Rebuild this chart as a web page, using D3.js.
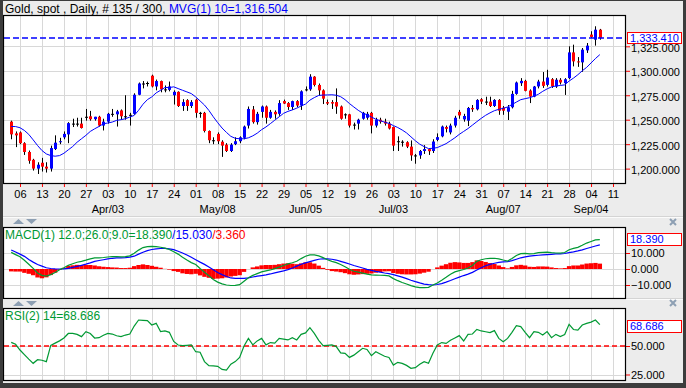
<!DOCTYPE html>
<html><head><meta charset="utf-8">
<script src="https://cdn.jsdelivr.net/npm/d3@7"></script>
<style>html,body{margin:0;padding:0;background:#ececec;overflow:hidden}svg{display:block}</style>
</head><body>
<script>
// ---------- DATA ----------
const weekLabels = ["06","13","20","27","03","10","17","24","01","08","15","22","29","05","12","19","26","03","10","17","24","31","07","14","21","28","04","11"];
const monthLabels = ["Apr/03","May/08","Jun/05","Jul/03","Aug/07","Sep/04"];
const monthWeek = [4,9,13,17,22,26];
const priceTicks = [1200,1225,1250,1275,1300,1325];
const macdTicks = [-10,0,10];
const rsiTicks = [25,50];

const open = [1248,1236,1237,1226,1217,1209,1200,1206,1202,1200,
1220,1227,1232,1235,1246,1246,1246,1253,1253.5,1250.5,
1253,1244,1248,1256,1255.5,1259.5,1253.5,1255,1256,1275.5,
1287,1287.5,1295,1284,1289.5,1281,1280.5,1275,1278.5,1264,
1270,1264,1270.5,1257,1257,1238.5,1229,1235.5,1227.5,1224.5,
1218,1225,1228,1231.5,1244,1260.5,1247.5,1258,1263.5,1252,
1258,1256,1269,1267,1263,1269,1264.5,1281,1281,1294,
1285.5,1280,1268,1268,1268,1263.5,1255.5,1255.5,1245,1246,
1251,1252,1257,1244,1250,1248,1246,1242.5,1228,1227.5,
1227,1222.5,1213.5,1213.5,1218,1220,1218,1229.4,1233,1242.5,
1237,1244,1258,1250.3,1249,1262,1260.6,1270.9,1268.5,1268.5,
1264,1270.2,1262.3,1258.2,1262.7,1276.4,1287.3,1289.7,1279.8,1273.6,
1284,1289,1285.6,1291.4,1283.9,1290.8,1287.3,1292.5,1318.8,1309.6,
1308.6,1320.9,1337,1331.8,1342];
const high = [1249,1238,1238,1227,1218.5,1210,1206.5,1211,1206.5,1223.5,
1234,1231.5,1238,1247.5,1251,1252,1252,1261,1259,1253,
1254,1251,1257,1261,1260,1260.5,1275,1257,1277,1288,
1289.5,1289,1296,1291,1290,1285,1289,1280,1279,1271,
1271,1270,1271.5,1258,1258,1239,1232,1237,1229,1226,
1226,1232,1233,1244,1263.5,1264,1258,1264.5,1264.5,1260,
1259.5,1270,1270.5,1268,1269.5,1270,1280,1284,1296.5,1294.5,
1287,1281,1270.5,1270,1282,1264.5,1256.5,1256,1247,1251,
1258,1258,1258,1252,1252,1251,1248,1243,1233,1229,
1228,1228.8,1215,1219,1224,1221,1230,1236,1244,1244,
1246,1254,1260,1256,1263,1265,1271,1272,1273.5,1273.5,
1271,1271,1264,1265,1279.5,1289,1292.5,1290.8,1281,1284.5,
1290.8,1298.7,1301,1292.5,1292.5,1292.5,1292.5,1325,1326.7,1314,
1323.3,1328.4,1340.4,1345.5,1342.8];
const low = [1230,1222,1225,1214,1205,1198,1194.5,1197,1196,1197,
1219,1225,1230,1226,1242.5,1243,1241,1249,1249,1249,
1243,1239,1246,1253,1243,1250,1250,1244,1255,1275,
1282,1284,1283,1280,1278,1278,1279,1265.5,1263,1259,
1259,1262,1252,1252,1237,1226,1225,1225,1212,1217,
1217,1224,1226,1230,1241,1246,1245,1252,1246,1251,
1251,1254,1266,1260,1260,1263,1260,1279,1279.5,1284,
1275,1266,1265,1261,1256,1250,1251,1242,1240,1240,
1250,1250,1236,1242,1246,1244,1240,1218,1218,1222.5,
1221,1208,1205,1210,1215,1214,1216,1228,1232,1237,
1235,1242,1251,1248,1243.5,1258,1259.5,1266,1265,1263,
1263,1255,1255,1249.7,1261.5,1275.5,1284.5,1279,1267,1273,
1282,1282.5,1283.9,1282.5,1282.5,1286,1275.3,1291.4,1304.5,1304,
1299,1318.2,1333.6,1325.7,1331.8];
const close = [1235,1234,1226,1217,1208,1200,1204,1202,1200,1221,
1226.5,1228,1235.5,1246.5,1246,1246,1241.5,1253,1250.5,1253,
1244,1248,1256,1256,1258.5,1253.5,1253.5,1255,1275.5,1287,
1287,1287.5,1284,1289.5,1281,1281,1284,1278.5,1264,1268,
1264,1268,1257,1257,1238.5,1229,1229,1228,1223.5,1218,
1224.5,1228,1232,1243,1261,1247.5,1256,1263.5,1252,1258,
1255.5,1267,1266.5,1263,1269,1264.5,1279,1281,1294,1285.5,
1280,1271.5,1266.5,1266.5,1263.5,1251,1255.5,1244,1245,1250,
1257,1256,1244,1250,1248,1246,1241,1223.5,1228,1227.5,
1222.5,1213.5,1213.5,1218,1220,1217.8,1227.7,1232.2,1243,1240.7,
1244,1252,1254.4,1253.8,1262,1260.6,1270.2,1268.5,1268.5,1264,
1270.2,1259.2,1259.2,1262.7,1276.4,1288,1289.7,1279.5,1273.6,1283.9,
1289,1284.6,1293.1,1283.9,1290.8,1288,1291.4,1318.8,1309.6,1308.6,
1321.6,1325.7,1334.6,1342,1333.41];
const ma10 = [1243.1,1243,1241.8,1239,1235,1229.4,1223.6,1218.5,1215,1213.3,
1212.7,1213.3,1215.7,1219.2,1222.6,1227,1230.5,1234,1238,1240.7,
1243.1,1245.9,1246.6,1247.6,1249.3,1250,1251,1252.7,1254.4,1259.6,
1265.8,1270.5,1273.3,1277.4,1280.1,1282.9,1282.9,1283.6,1281.8,1280.1,
1278.4,1276.7,1273.3,1269.2,1265,1259.5,1253,1247,1241.5,1237,
1233,1231,1230.5,1230.5,1231.5,1233.5,1236.2,1239.8,1242.6,1246,
1249.5,1253,1256.5,1258.5,1260,1261.8,1264,1266,1270,1272.6,
1274.8,1275.2,1275.3,1275.5,1275,1273.5,1270.5,1266.5,1263,1259.6,
1256.8,1255.1,1252.7,1250.5,1249,1247.5,1246.2,1244,1242,1239.5,
1236.5,1232.5,1228.5,1225,1222.5,1220.5,1220.8,1221.5,1223.5,1225.5,
1228.5,1231.5,1235,1238,1241,1244.5,1248,1251.4,1254.5,1257,
1259.2,1260.6,1261.6,1263,1265.5,1268,1270.5,1271.5,1272.5,1274,
1276,1279,1281.5,1283.5,1284.5,1285,1285.6,1289.5,1292.5,1296,
1300,1303.5,1308,1312.5,1316.504];
const macdLine = [10.4,9.0,7.7,5.5,3.0,0.4,-2.5,-4.0,-4.4,-3.5,
-2.2,-0.5,0.8,2.3,3.3,4.2,4.8,5.5,6.3,7.0,
7.0,7.2,7.5,7.7,7.8,7.6,7.7,8.2,9.8,11.8,
13.4,14.0,14.2,14.0,13.6,13.0,12.2,10.8,9.3,7.3,
5.6,4.0,2.8,0.3,-2.0,-4.2,-6.6,-8.2,-9.3,-10.0,
-10.3,-10.2,-9.8,-7.6,-5.5,-4.0,-2.9,-1.8,-1.2,-0.6,
0.2,1.2,2.2,3.2,3.9,4.8,6.5,8.0,8.8,8.8,
8.2,7.1,5.8,4.8,4.0,2.8,1.4,-0.2,-1.4,-2.0,
-2.6,-3.2,-3.7,-3.8,-3.9,-4.0,-4.3,-6.0,-7.3,-8.4,
-9.4,-10.4,-11.2,-11.6,-11.7,-11.5,-10.0,-8.7,-7.0,-5.2,
-3.3,-1.8,-1.0,-0.3,0.6,2.2,4.8,5.8,6.4,6.6,
6.7,6.3,5.6,5.0,6.5,8.4,9.6,9.8,9.4,9.6,
10.2,10.4,10.5,10.2,10.0,9.9,10.3,12.0,12.9,13.5,
14.8,16.2,17.2,18.2,18.39];
const signalLine = [11.9,10.6,9.3,7.9,6.0,4.3,2.8,1.8,0.8,0.3,
0.1,0.0,0.1,0.4,1.0,1.6,2.3,3.0,3.8,4.8,
5.3,5.8,6.3,6.7,6.9,7.0,7.1,7.4,8.0,9.3,
10.5,11.5,12.2,12.6,12.8,12.9,12.6,12.1,11.1,10.0,
8.7,7.3,5.8,4.3,2.9,1.3,-0.4,-2.2,-3.5,-4.7,
-5.6,-5.9,-5.9,-5.8,-5.5,-5.0,-4.5,-4.1,-3.7,-3.1,
-2.4,-1.8,-1.2,-0.4,0.6,1.8,3.0,3.8,4.6,5.4,
6.1,6.4,6.3,6.1,5.6,4.8,4.0,3.1,2.2,1.4,
0.6,-0.2,-0.9,-1.5,-2.0,-2.5,-2.9,-3.5,-4.3,-5.1,
-6.0,-7.0,-7.9,-8.7,-9.4,-9.8,-10.0,-9.7,-9.1,-8.2,
-7.2,-6.1,-5.1,-4.1,-3.2,-2.1,-0.6,0.8,2.0,2.9,
3.6,4.1,4.4,4.6,5.2,6.1,7.0,7.6,8.0,8.3,
8.6,8.8,9.0,9.2,9.4,9.5,9.7,10.2,10.7,11.3,
12.0,12.8,13.6,14.4,15.03];
const histogram = [-1.5,-1.6,-1.6,-2.4,-3.0,-3.9,-5.3,-5.8,-5.2,-3.8,
-2.3,-0.5,0.7,1.9,2.3,2.6,2.5,2.5,2.5,2.2,
1.7,1.4,1.2,1.0,0.9,0.6,0.6,0.8,1.8,2.5,
2.9,2.5,2.0,1.4,0.8,0.1,-0.4,-1.3,-1.8,-2.7,
-3.1,-3.3,-3.0,-4.0,-4.9,-5.5,-6.2,-6.0,-5.8,-5.3,
-4.7,-4.3,-3.9,-1.8,0.0,1.0,1.6,2.3,2.5,2.5,
2.6,3.0,3.4,3.6,3.3,3.0,3.5,4.2,4.2,3.4,
2.1,0.7,-0.5,-1.3,-1.6,-2.0,-2.6,-3.3,-3.6,-3.4,
-3.2,-3.0,-2.8,-2.3,-1.9,-1.5,-1.4,-2.5,-3.0,-3.3,
-3.4,-3.4,-3.3,-2.9,-2.3,-1.7,0.0,1.0,2.1,3.0,
3.9,4.3,4.1,3.8,3.8,4.3,5.4,5.0,4.4,3.7,
3.1,2.2,1.2,0.4,1.3,2.3,2.6,2.2,1.4,1.3,
1.6,1.6,1.5,1.0,0.6,0.4,0.6,1.8,2.2,2.2,
2.8,3.4,3.6,3.8,3.36];
const rsi = [53.2,51.5,46.5,42.5,38.5,34.8,38,37.5,36.3,50.5,
52.5,54.5,57,61,61,60.2,58.2,62.6,61,57,
57.3,59.5,61.1,60.5,59,58.2,59.6,60.5,67.5,72.8,
72.5,72.2,68.4,69.9,62.6,63.2,62,54,50.9,50.3,
50.6,50.9,45,44.5,36.3,32.7,32.5,32.2,29.5,28.9,
34,36.3,40,50,56.7,51,54.5,56.7,51,53,
52.5,56.7,56,55.3,57.3,55.3,60.2,61.5,66.1,61.1,
55,50.3,50.6,50.9,49.5,44,43.6,40,42,45,
48,47,41.5,45,43,41,40,33.3,35.7,34.8,
33,30.4,31,34,36.3,34.8,43.6,51,53,52.3,
55,57,59.1,54.4,60.2,60.5,64.6,63.2,62.5,61.7,
63.5,56.7,53.8,56.7,62,67.8,67,62,57.3,62.6,
62,59.6,62.6,57.3,60.2,58.2,60,69,64.5,64,
68.4,69.9,71,72.8,68.686];

// ---------- DRAW ----------
const FONT = '"Liberation Sans", Arial, sans-serif';
const W = 686, H = 388, L = 4, R = 625;
const GREEN = '#009933', BLUE = '#0000ff', RED = '#ff0000';
const fmt3 = d3.format(',.3f');
const idx = d3.range(close.length);
const weekIdx = weekLabels.map((d, k) => 2 + 5 * k);

const x = d3.scaleLinear().domain([-1.64, 139.73]).range([L, R]);
const yP = d3.scaleLinear().domain([1185.3, 1356]).range([183, 16]);
const yM = d3.scaleLinear().domain([-18.125, 25.625]).range([298, 228]);
const yR = d3.scaleLinear().domain([20.18, 82.46]).range([380, 309]);

const svg = d3.select('body').append('svg').attr('width', W).attr('height', H)
  .attr('font-family', FONT);
svg.append('rect').attr('width', W).attr('height', H).attr('fill', '#ececec');

// separators
[217.5, 299.5].forEach(yy => {
  svg.append('line').attr('x1', 3).attr('x2', 683).attr('y1', yy).attr('y2', yy).attr('stroke', '#fbfbfb');
  svg.append('line').attr('x1', 3).attr('x2', 683).attr('y1', yy - 1).attr('y2', yy - 1).attr('stroke', '#d4d4d4');
});

// title
const title = svg.append('text').attr('x', 5).attr('y', 12.5).attr('font-size', 12).attr('fill', '#000');
title.append('tspan').text('Gold, spot , Daily, # 135 / 300, ');
title.append('tspan').attr('fill', BLUE).text('MVG(1) 10=' + fmt3(ma10[ma10.length - 1]));

function makePanel(top, bottom, y, ticks, id, labelShift) {
  const g = svg.append('g');
  g.append('rect').attr('x', L).attr('y', top).attr('width', R - L).attr('height', bottom - top).attr('fill', '#fff');
  svg.append('clipPath').attr('id', id).append('rect').attr('x', L).attr('y', top).attr('width', R - L).attr('height', bottom - top);
  const gv = g.append('g').attr('stroke', '#d8d8d8').attr('shape-rendering', 'crispEdges');
  gv.selectAll('line').data(weekIdx).join('line')
    .attr('x1', d => Math.round(x(d)) + 0.5).attr('x2', d => Math.round(x(d)) + 0.5)
    .attr('y1', top).attr('y2', bottom);
  const gh = g.append('g').attr('stroke', '#d8d8d8').attr('shape-rendering', 'crispEdges');
  gh.selectAll('line').data(ticks).join('line')
    .attr('x1', L).attr('x2', R)
    .attr('y1', d => Math.round(y(d)) + 0.5).attr('y2', d => Math.round(y(d)) + 0.5);
  const content = g.append('g').attr('clip-path', `url(#${id})`);
  const ax = svg.append('g').attr('transform', `translate(${R + 1},0)`)
    .call(d3.axisRight(y).tickValues(ticks).tickSize(4).tickPadding(1).tickFormat(fmt3));
  ax.select('.domain').remove();
  ax.selectAll('.tick line').attr('stroke', RED);
  ax.selectAll('.tick text').attr('fill', '#000').attr('font-size', 11).attr('font-family', FONT)
    .attr('y', labelShift || 0);
  const border = () => svg.append('rect').attr('x', L - 0.5).attr('y', top - 0.5).attr('width', R - L + 1).attr('height', bottom - top + 1)
    .attr('fill', 'none').attr('stroke', '#000').attr('stroke-width', 1.2);
  return { content, border };
}

// ---- main price panel ----
const main = makePanel(16, 183, yP, priceTicks, 'cpMain', 1.5);
const cg = main.content;
cg.append('g').selectAll('line').data(idx).join('line')
  .attr('x1', i => Math.round(x(i)) + 0.5).attr('x2', i => Math.round(x(i)) + 0.5)
  .attr('y1', i => yP(high[i])).attr('y2', i => yP(low[i]))
  .attr('stroke', '#000').attr('stroke-width', 1);
cg.append('g').selectAll('rect').data(idx).join('rect')
  .attr('x', i => Math.round(x(i)) - 1).attr('width', 3)
  .attr('y', i => Math.min(yP(open[i]), yP(close[i])))
  .attr('height', i => Math.max(1, Math.abs(yP(open[i]) - yP(close[i]))))
  .attr('fill', i => close[i] > open[i] ? BLUE : close[i] < open[i] ? RED : '#000');
cg.append('path').datum(idx)
  .attr('d', d3.line().x(i => x(i)).y(i => yP(ma10[i])))
  .attr('fill', 'none').attr('stroke', BLUE).attr('stroke-width', 1);
const lastClose = close[close.length - 1];
cg.append('line').attr('x1', L).attr('x2', R).attr('y1', yP(lastClose)).attr('y2', yP(lastClose))
  .attr('stroke', BLUE).attr('stroke-width', 1.5).attr('stroke-dasharray', '6,3');
main.border();

// x axis
const xa = svg.append('g').attr('transform', 'translate(0,184)')
  .call(d3.axisBottom(x).tickValues(weekIdx).tickSize(3).tickPadding(3).tickFormat((d, k) => weekLabels[k]));
xa.select('.domain').remove();
xa.selectAll('.tick line').attr('stroke', RED);
xa.selectAll('.tick text').attr('fill', '#000').attr('font-size', 11).attr('font-family', FONT);
svg.append('g').selectAll('text').data(monthLabels).join('text')
  .attr('x', (d, k) => x(weekIdx[monthWeek[k]])).attr('y', 213)
  .attr('text-anchor', 'middle').attr('font-size', 11).attr('fill', '#000').text(d => d);

function valueBox(yTop, txt, h) {
  svg.append('rect').attr('x', 627.5).attr('y', yTop + 0.5).attr('width', 54).attr('height', h || 12)
    .attr('fill', '#fff').attr('stroke', RED).attr('stroke-width', 1);
  svg.append('text').attr('x', 630).attr('y', yTop + 10).attr('font-size', 11).attr('fill', BLUE).text(txt);
}
valueBox(32, fmt3(lastClose), 11);

// ---- MACD panel ----
const mp = makePanel(228, 298, yM, macdTicks, 'cpMacd', 0);
const bw = x(1) - x(0);
mp.content.append('g').selectAll('rect').data(idx).join('rect')
  .attr('x', i => x(i) - bw / 2).attr('width', bw)
  .attr('y', i => Math.min(yM(0), yM(histogram[i])))
  .attr('height', i => Math.abs(yM(histogram[i]) - yM(0)))
  .attr('fill', RED);
mp.content.append('path').datum(idx).attr('d', d3.line().x(i => x(i)).y(i => yM(signalLine[i])))
  .attr('fill', 'none').attr('stroke', BLUE).attr('stroke-width', 1.2);
mp.content.append('path').datum(idx).attr('d', d3.line().x(i => x(i)).y(i => yM(macdLine[i])))
  .attr('fill', 'none').attr('stroke', GREEN).attr('stroke-width', 1.2);
const mt = mp.content.append('text').attr('x', 5).attr('y', 239).attr('font-size', 12);
const li = macdLine.length - 1;
mt.append('tspan').attr('fill', GREEN).text('MACD(1) 12.0;26.0;9.0=' + macdLine[li].toFixed(3));
mt.append('tspan').attr('fill', BLUE).text('/' + signalLine[li].toFixed(3));
mt.append('tspan').attr('fill', RED).text('/' + histogram[li].toFixed(3));
mp.border();
valueBox(233, macdLine[li].toFixed(3));

// ---- RSI panel ----
const rp = makePanel(309, 380, yR, rsiTicks, 'cpRsi', 0);
rp.content.append('line').attr('x1', L).attr('x2', R).attr('y1', yR(50)).attr('y2', yR(50))
  .attr('stroke', RED).attr('stroke-width', 1.5).attr('stroke-dasharray', '5,3');
rp.content.append('path').datum(idx).attr('d', d3.line().x(i => x(i)).y(i => yR(rsi[i])))
  .attr('fill', 'none').attr('stroke', GREEN).attr('stroke-width', 1.2);
rp.content.append('text').attr('x', 5).attr('y', 320).attr('font-size', 12).attr('fill', GREEN)
  .text('RSI(2) 14=' + rsi[rsi.length - 1].toFixed(3));
rp.border();
valueBox(320, rsi[rsi.length - 1].toFixed(3));

// panel controls (arrows and close crosses)
function arrows(yy) {
  svg.append('path').attr('d', `M13,${yy + 5}L18.5,${yy}L24,${yy + 5}Z`).attr('fill', '#8d9fb3');
  svg.append('path').attr('d', `M26,${yy}L37,${yy}L31.5,${yy + 5}Z`).attr('fill', '#8d9fb3');
}
arrows(219); arrows(301);
function cross(cx, cy) {
  svg.append('path').attr('d', `M${cx - 3},${cy - 3}L${cx + 3},${cy + 3}M${cx + 3},${cy - 3}L${cx - 3},${cy + 3}`)
    .attr('stroke', '#8d9fb3').attr('stroke-width', 2);
}
cross(673, 222); cross(673, 303);

// window frame
svg.append('rect').attr('x', 0).attr('y', 0).attr('width', 3).attr('height', H).attr('fill', '#3c3c3c');
svg.append('rect').attr('x', 683).attr('y', 0).attr('width', 3).attr('height', H).attr('fill', '#3c3c3c');
svg.append('rect').attr('x', 0).attr('y', 383).attr('width', W).attr('height', 5).attr('fill', '#3c3c3c');
svg.append('rect').attr('x', 0).attr('y', 0).attr('width', W).attr('height', 1).attr('fill', '#3c3c3c');
</script>
</body></html>
